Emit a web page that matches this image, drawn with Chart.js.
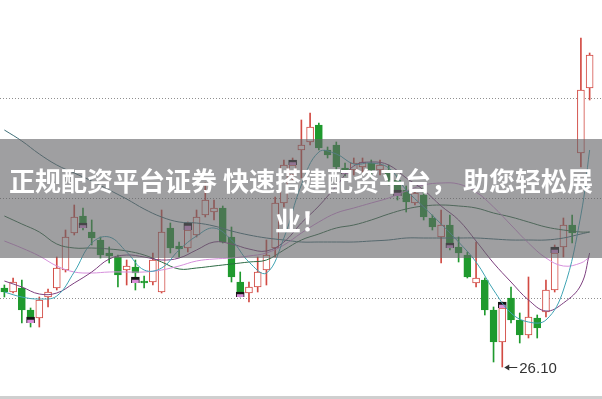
<!DOCTYPE html>
<html>
<head>
<meta charset="utf-8">
<script src="https://cdn.jsdelivr.net/npm/chart.js@4"></script>
<style>
  html, body { margin: 0; padding: 0; background: #fff; }
  canvas { display: block; }
</style>
</head>
<body>
<canvas id="kline" width="602" height="399"></canvas>
<script>
// daily OHLC
const open  = [26.89, 26.85, 26.89, 26.67, 26.59, 26.80, 26.89, 27.07, 27.44, 27.61,
               27.45, 27.37, 27.24, 27.20, 27.07, 27.10, 26.96, 26.95, 26.85, 27.49,
               27.31, 27.29, 27.42, 27.62, 27.65, 27.69, 27.40, 26.95, 26.84, 26.90,
               27.07, 27.29, 27.74, 28.02, 28.27, 28.35, 28.52, 28.27, 28.32, 28.09,
               28.07, 28.10, 28.14, 28.07, 28.07, 27.97, 27.87, 27.74, 27.82, 27.59,
               27.40, 27.52, 27.30, 27.22, 26.94, 26.97, 26.67, 26.35, 26.79, 26.57,
               26.42, 26.59, 26.65, 26.87, 27.30, 27.52, 28.24, 28.89];
const high  = [26.92, 26.99, 26.97, 26.69, 26.80, 26.88, 27.20, 27.47, 27.72, 27.69,
               27.57, 27.40, 27.30, 27.22, 27.17, 27.17, 27.01, 27.24, 27.67, 27.54,
               27.35, 27.55, 27.67, 27.94, 27.77, 27.71, 27.50, 27.05, 26.95, 27.20,
               27.37, 27.80, 28.17, 28.19, 28.57, 28.64, 28.54, 28.30, 28.35, 28.14,
               28.19, 28.19, 28.17, 28.17, 28.12, 28.02, 27.91, 27.87, 27.89, 27.62,
               27.67, 27.62, 27.40, 27.25, 27.35, 26.99, 26.70, 26.75, 26.90, 26.64,
               27.00, 26.62, 26.97, 27.32, 27.59, 27.62, 29.39, 29.24];
const low   = [26.80, 26.84, 26.54, 26.50, 26.50, 26.70, 26.87, 27.05, 27.42, 27.47,
               27.32, 27.19, 27.14, 26.90, 26.92, 26.87, 26.89, 26.92, 26.84, 27.24,
               27.20, 27.25, 27.40, 27.60, 27.57, 27.34, 26.95, 26.80, 26.75, 26.85,
               26.92, 27.20, 27.70, 27.97, 27.99, 28.32, 28.27, 28.19, 28.07, 28.01,
               28.02, 28.05, 27.99, 28.02, 27.92, 27.77, 27.65, 27.72, 27.57, 27.47,
               27.14, 27.27, 27.15, 26.99, 26.90, 26.62, 26.15, 26.10, 26.54, 26.34,
               26.39, 26.39, 26.60, 26.85, 27.20, 27.34, 28.10, 28.77];
const close = [26.85, 26.95, 26.67, 26.60, 26.77, 26.85, 27.09, 27.40, 27.60, 27.54,
               27.39, 27.22, 27.21, 27.02, 27.11, 27.04, 26.94, 27.17, 27.45, 27.29,
               27.28, 27.47, 27.60, 27.77, 27.69, 27.35, 27.00, 26.85, 26.90, 27.05,
               27.22, 27.74, 28.12, 28.12, 28.32, 28.50, 28.29, 28.22, 28.10, 28.06,
               28.14, 28.15, 28.07, 28.12, 27.97, 27.87, 27.75, 27.84, 27.60, 27.50,
               27.52, 27.34, 27.24, 27.00, 26.99, 26.67, 26.35, 26.69, 26.57, 26.42,
               26.60, 26.49, 26.87, 27.24, 27.52, 27.44, 28.87, 29.22];

// small signal squares that appear every sixth bar
const markerDays = [3, 9, 15, 21, 27, 33, 39, 45, 51, 57, 63];
const markerLow  = [26.54, 27.49, 26.94, 27.47, 26.80, 28.12, 28.03, 27.81, 27.29, 26.69, 27.24];
const markerHigh = [26.60, 27.54, 27.00, 27.54, 26.85, 28.17, 28.07, 27.87, 27.34, 26.75, 27.30];

// moving average lines, sampled at these bars
const maDays = [0, 2, 4, 6, 8, 10, 12, 14, 16, 18, 20, 22, 24, 26, 28, 30, 32, 34,
                36, 38, 40, 42, 44, 46, 48, 50, 52, 54, 56, 58, 60, 62, 64, 66, 67];
const ma5   = [26.85, 26.80, 26.78, 26.81, 27.05, 27.34, 27.40, 27.25, 27.07, 27.09,
               27.27, 27.41, 27.49, 27.37, 27.15, 27.04, 27.39, 27.92, 28.25, 28.23,
               28.13, 28.14, 28.09, 27.87, 27.70, 27.53, 27.35, 27.15, 26.87, 26.64,
               26.55, 26.57, 26.87, 27.62, 28.27];
const ma10  = [26.96, 26.90, 26.83, 26.84, 26.94, 27.05, 27.18, 27.22, 27.20, 27.17,
               27.19, 27.27, 27.35, 27.33, 27.28, 27.26, 27.35, 27.54, 27.71, 27.91,
               28.11, 28.15, 28.12, 27.99, 27.87, 27.71, 27.57, 27.36, 27.14, 26.95,
               26.77, 26.66, 26.74, 26.92, 27.24];
const ma20  = [27.36, 27.29, 27.21, 27.11, 27.05, 27.04, 27.05, 27.05, 27.05, 27.07,
               27.11, 27.16, 27.18, 27.19, 27.21, 27.24, 27.32, 27.44, 27.55, 27.64,
               27.69, 27.74, 27.79, 27.86, 27.92, 27.94, 27.93, 27.85, 27.70, 27.52,
               27.34, 27.19, 27.11, 27.14, 27.20];
const ma30  = [27.61, 27.53, 27.45, 27.33, 27.29, 27.29, 27.28, 27.26, 27.22, 27.15,
               27.08, 27.09, 27.11, 27.13, 27.15, 27.17, 27.27, 27.37, 27.43, 27.49,
               27.52, 27.57, 27.63, 27.68, 27.71, 27.72, 27.71, 27.69, 27.64, 27.60,
               27.55, 27.50, 27.47, 27.45, 27.45];
const ma60  = [28.47, 28.36, 28.23, 28.12, 28.04, 27.96, 27.87, 27.78, 27.68, 27.60,
               27.55, 27.54, 27.51, 27.46, 27.42, 27.39, 27.37, 27.35, 27.35, 27.35,
               27.35, 27.36, 27.37, 27.39, 27.39, 27.39, 27.39, 27.39, 27.38, 27.37,
               27.37, 27.37, 27.39, 27.43, 27.45];

const gridPrices = [26.79, 27.79, 28.79];
const bannerLines = ['正规配资平台证券 快速搭建配资平台， 助您轻松展', '业！'];

const days = open.map((_, i) => 'D' + (i + 1));
const RED = '#d24a43';
const GREEN = '#1f9a2e';
const isUp = open.map((o, i) => close[i] >= o);

function spread(values) {
    const arr = new Array(days.length).fill(null);
    maDays.forEach((d, k) => { arr[d] = values[k]; });
    return arr;
}

const markers = new Array(days.length).fill(null);
markerDays.forEach((d, k) => { markers[d] = [markerLow[k], markerHigh[k]]; });

function maLine(values, color) {
    return {
        type: 'line',
        data: spread(values),
        borderColor: color,
        borderWidth: 1,
        pointRadius: 0,
        tension: 0.4,
        spanGaps: true,
        order: 0
    };
}

const overlay = {
    id: 'overlay',
    beforeDatasetsDraw(chart) {
        const ctx = chart.ctx;
        const y = chart.scales.y;
        ctx.save();
        ctx.strokeStyle = '#8f8f8f';
        ctx.lineWidth = 1;
        ctx.setLineDash([1, 2]);
        gridPrices.forEach(p => {
            const py = Math.round(y.getPixelForValue(p)) + 0.5;
            ctx.beginPath();
            ctx.moveTo(0, py);
            ctx.lineTo(chart.width, py);
            ctx.stroke();
        });
        ctx.restore();
    },
    afterDraw(chart) {
        const ctx = chart.ctx;
        const x = chart.scales.x;
        const y = chart.scales.y;

        // lowest low marker
        const minLow = Math.min(...low);
        const idx = low.indexOf(minLow);
        const px = x.getPixelForValue(idx);
        const py = Math.round(y.getPixelForValue(minLow)) + 0.5;
        ctx.save();
        ctx.strokeStyle = '#333';
        ctx.fillStyle = '#333';
        ctx.lineWidth = 1;
        ctx.beginPath();
        ctx.moveTo(px + 4, py);
        ctx.lineTo(px + 15, py);
        ctx.stroke();
        ctx.beginPath();
        ctx.moveTo(px + 2, py);
        ctx.lineTo(px + 7, py - 3);
        ctx.lineTo(px + 7, py + 3);
        ctx.closePath();
        ctx.fill();
        ctx.font = "15px 'Liberation Sans', Arial, sans-serif";
        ctx.textBaseline = 'middle';
        ctx.fillText(minLow.toFixed(2), px + 17, py + 1);

        // grey band with the title
        ctx.fillStyle = 'rgba(100, 100, 104, 0.62)';
        ctx.fillRect(0, 139, chart.width, 119);
        ctx.fillStyle = '#fff';
        ctx.font = "bold 26px 'Noto Sans CJK SC', sans-serif";
        ctx.textAlign = 'center';
        ctx.textBaseline = 'middle';
        ctx.fillText(bannerLines[0], chart.width / 2, 181);
        ctx.fillText(bannerLines[1], chart.width / 2, 221);

        // bottom rule
        ctx.fillStyle = '#cfcfcf';
        ctx.fillRect(0, 396, chart.width, 3);
        ctx.restore();
    }
};

const ctx = document.getElementById('kline').getContext('2d');
new Chart(ctx, {
    type: 'bar',
    data: {
        labels: days,
        datasets: [{
            // wicks
            data: low.map((l, i) => [l, high[i]]),
            backgroundColor: isUp.map(u => u ? RED : GREEN),
            barThickness: 1,
            grouped: false,
            order: 3
        }, {
            // bodies
            data: open.map((o, i) => [o, close[i]]),
            backgroundColor: isUp.map(u => u ? '#ffffff' : GREEN),
            borderColor: isUp.map(u => u ? RED : GREEN),
            borderWidth: 1,
            borderSkipped: false,
            barThickness: 7,
            grouped: false,
            order: 2
        }, {
            data: markers,
            backgroundColor: '#d98fd9',
            borderColor: '#151515',
            borderWidth: { top: 3, left: 1, right: 1, bottom: 0 },
            borderSkipped: false,
            barThickness: 8,
            grouped: false,
            order: 1
        },
        maLine(ma5, '#3fa3b3'),
        maLine(ma10, '#7d3f7f'),
        maLine(ma20, '#d690dc'),
        maLine(ma30, '#2e6b45'),
        maLine(ma60, '#3f6f78')]
    },
    options: {
        responsive: false,
        animation: false,
        layout: { padding: { left: 0, right: 8, top: 0, bottom: 0 } },
        plugins: {
            legend: { display: false },
            tooltip: { enabled: false }
        },
        scales: {
            x: { display: false, offset: true },
            y: { display: false, min: 25.78, max: 29.77 }
        }
    },
    plugins: [overlay]
});
</script>
</body>
</html>
